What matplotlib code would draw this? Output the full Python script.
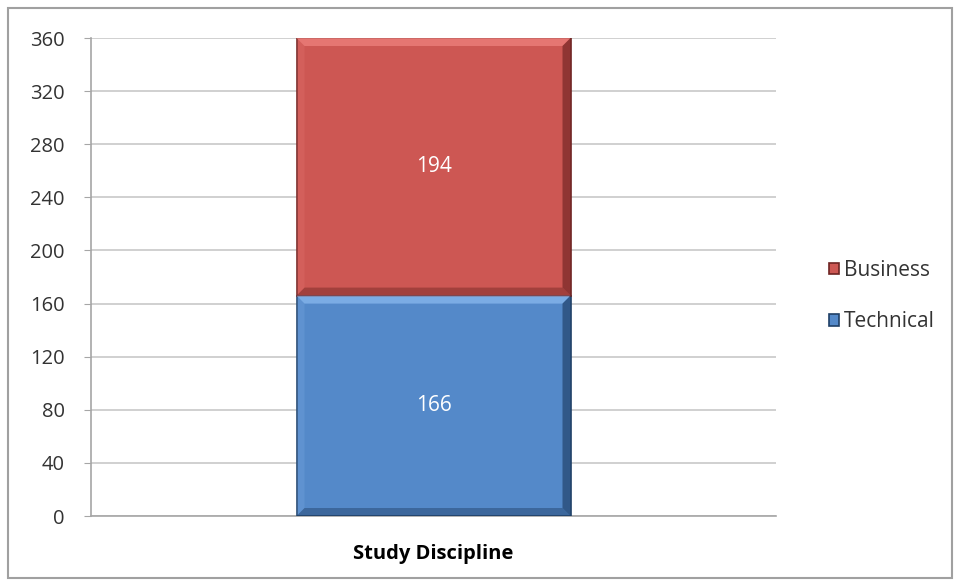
import matplotlib
matplotlib.use("Agg")
import matplotlib.pyplot as plt
from matplotlib.patches import Rectangle, Polygon

plt.rcParams['font.family'] = ['Open Sans', 'DejaVu Sans']

categories = ["Study Discipline"]
series_names = ["Technical", "Business"]
technical = [166]
business = [194]
y_ticks = [0, 40, 80, 120, 160, 200, 240, 280, 320, 360]

colors = {"Technical": "#5489C9", "Business": "#CD5753"}
dark = {"Technical": "#1F3F66", "Business": "#6E2422"}
light = {"Technical": "#8DBBF0", "Business": "#F08480"}

fig = plt.figure(figsize=(9.59, 5.83), dpi=100)
fig.patches.append(Rectangle((8 / 959, 5 / 583), 944 / 959, 570 / 583,
                             transform=fig.transFigure, fill=False,
                             edgecolor="#A0A0A0", linewidth=1.5))

ax = fig.add_axes([91 / 959, 67 / 583, 685 / 959, 478 / 583])
x = list(range(len(categories)))
width = 0.4

bottoms = [0] * len(categories)
bar_groups = []
for name, vals in (("Technical", technical), ("Business", business)):
    bars = ax.bar(x, vals, width, bottom=bottoms, color=colors[name],
                  edgecolor=dark[name], linewidth=1.2, label=name, zorder=3)
    bar_groups.append((name, bars, vals))
    for rect, v in zip(bars, vals):
        cx = rect.get_x() + rect.get_width() / 2
        cy = rect.get_y() + rect.get_height() / 2
        ax.text(cx, cy, f"{v}", ha="center", va="center", color="white",
                fontsize=15, zorder=5)
    bottoms = [b + v for b, v in zip(bottoms, vals)]

ax.set_ylim(0, 360)
ax.set_xlim(-0.5, 0.5)
ax.set_yticks(y_ticks)
ax.set_xticks(x)
ax.set_xticklabels(categories, fontweight="bold", fontsize=14.5)
ax.tick_params(axis="x", length=0, pad=20)
ax.tick_params(axis="y", length=5, color="#A6A6A6", labelsize=14.5,
               labelcolor="#333333", pad=14)
ax.yaxis.grid(True, color="#C8C8C8", linewidth=1.2, zorder=0)
ax.set_axisbelow(True)
for side in ("top", "right"):
    ax.spines[side].set_visible(False)
for side in ("left", "bottom"):
    ax.spines[side].set_color("#A6A6A6")
    ax.spines[side].set_linewidth(1.2)

# bevel shading on each bar segment
fig.canvas.draw()
inv = ax.transData.inverted()
for name, bars, vals in bar_groups:
    for rect in bars:
        x0, y0 = rect.get_x(), rect.get_y()
        x1, y1 = x0 + rect.get_width(), y0 + rect.get_height()
        (px0, py0) = ax.transData.transform((x0, y0))
        b = 8
        dx = inv.transform((px0 + b, py0))[0] - x0
        dy = inv.transform((px0, py0 + b))[1] - y0
        top = Polygon([(x0, y1), (x1, y1), (x1 - dx, y1 - dy), (x0 + dx, y1 - dy)],
                      closed=True, facecolor=light[name], edgecolor="none",
                      alpha=0.7, zorder=4)
        right = Polygon([(x1, y1), (x1, y0), (x1 - dx, y0 + dy), (x1 - dx, y1 - dy)],
                        closed=True, facecolor=dark[name], edgecolor="none",
                        alpha=0.65, zorder=4)
        bottom = Polygon([(x0, y0), (x1, y0), (x1 - dx, y0 + dy), (x0 + dx, y0 + dy)],
                         closed=True, facecolor=dark[name], edgecolor="none",
                         alpha=0.45, zorder=4)
        left = Polygon([(x0, y0), (x0, y1), (x0 + dx, y1 - dy), (x0 + dx, y0 + dy)],
                       closed=True, facecolor=light[name], edgecolor="none",
                       alpha=0.2, zorder=4)
        for p in (top, right, bottom, left):
            ax.add_patch(p)

handles, labels = ax.get_legend_handles_labels()
leg = fig.legend(handles[::-1], labels[::-1], loc="center left",
                 bbox_to_anchor=(810 / 959, 1 - 296 / 583), frameon=False,
                 fontsize=15, handlelength=0.5, handleheight=0.5,
                 handletextpad=0.25, labelspacing=1.45)
for t in leg.get_texts():
    t.set_color("#333333")

fig.savefig("out.png", dpi=100)
